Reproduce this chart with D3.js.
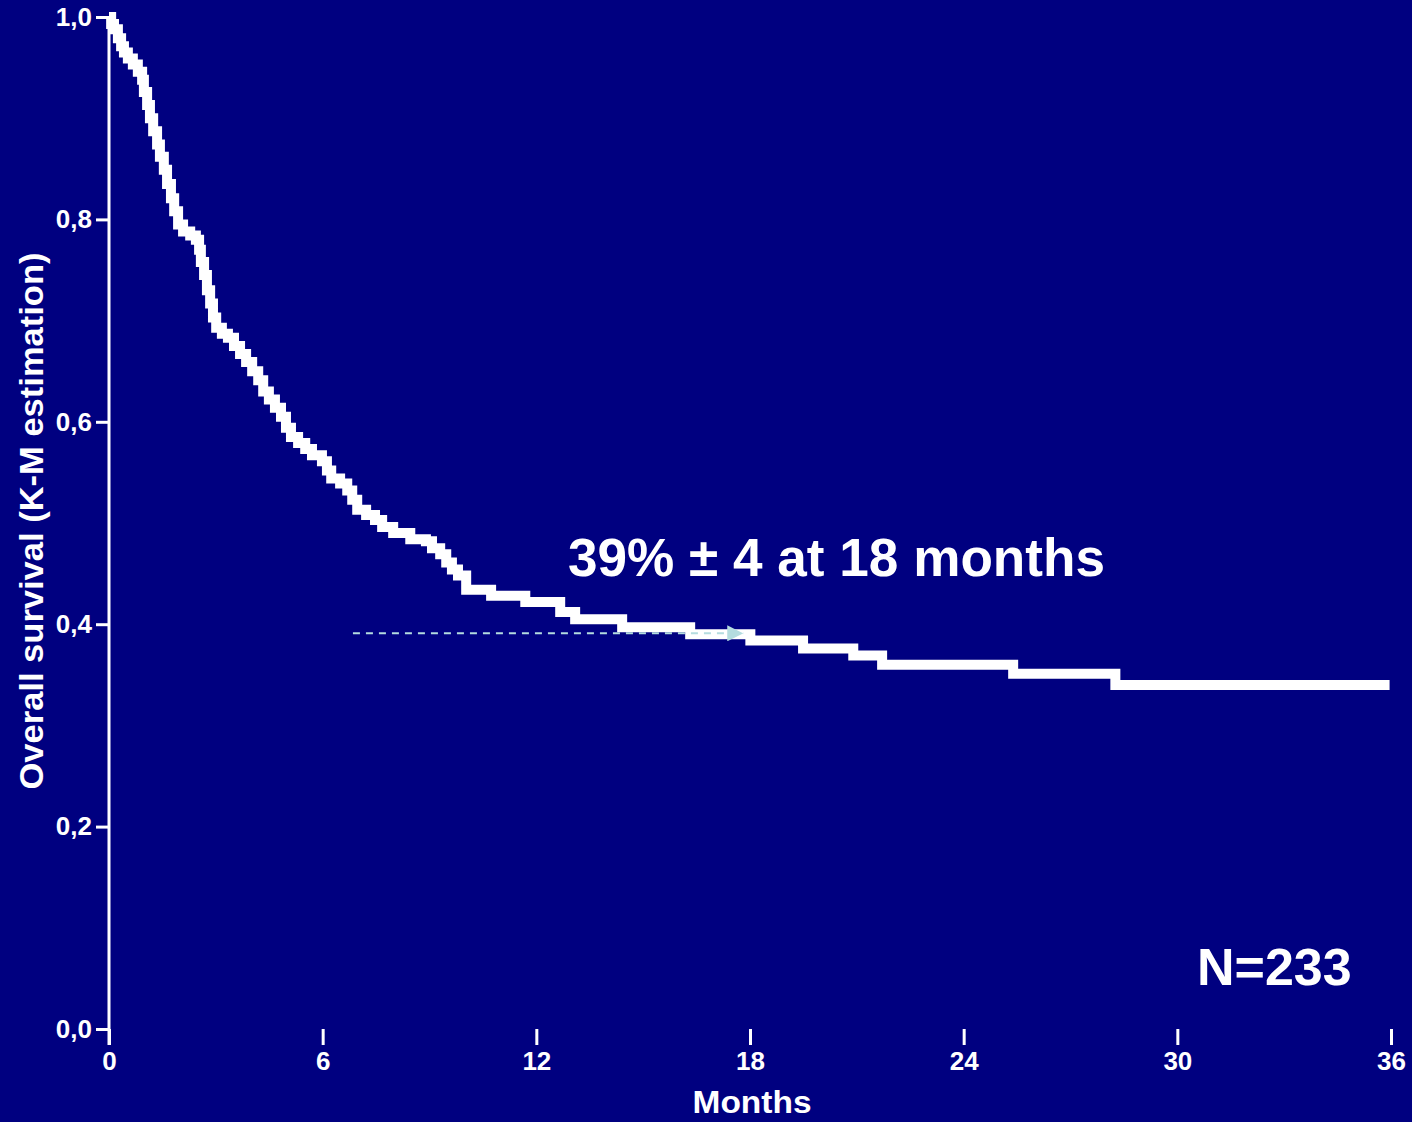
<!DOCTYPE html>
<html>
<head>
<meta charset="utf-8">
<script src="https://cdn.jsdelivr.net/npm/d3@7"></script>
<style>
  html, body { margin: 0; padding: 0; background: #000080; }
  svg { display: block; }
</style>
</head>
<body>
<svg id="chart" width="1412" height="1122"></svg>
<script>
// ---- Data ----
const months   = [0, 0.06, 0.14, 0.25, 0.34, 0.42, 0.53, 0.67, 0.81, 0.93, 0.98, 1.07, 1.15, 1.24, 1.35, 1.43, 1.54, 1.63, 1.74, 1.83, 1.94, 2.08, 2.28, 2.44, 2.53, 2.58, 2.67, 2.75, 2.84, 2.92, 3.01, 3.17, 3.34, 3.51, 3.68, 3.85, 4.02, 4.19, 4.33, 4.49, 4.66, 4.83, 4.97, 5.11, 5.31, 5.51, 5.70, 5.98, 6.12, 6.24, 6.49, 6.69, 6.83, 6.97, 7.22, 7.47, 7.67, 7.98, 8.46, 8.90, 9.07, 9.30, 9.47, 9.63, 9.80, 10.03, 10.73, 11.69, 12.67, 13.09, 14.41, 16.32, 18.01, 19.49, 20.90, 21.71, 25.39, 28.26, 35.96];
const survival = [1.000, 0.993, 0.988, 0.979, 0.971, 0.965, 0.959, 0.953, 0.946, 0.938, 0.926, 0.913, 0.900, 0.887, 0.874, 0.862, 0.849, 0.835, 0.821, 0.808, 0.795, 0.788, 0.784, 0.780, 0.770, 0.758, 0.745, 0.730, 0.717, 0.703, 0.693, 0.687, 0.683, 0.675, 0.667, 0.659, 0.650, 0.641, 0.630, 0.622, 0.614, 0.605, 0.594, 0.585, 0.579, 0.573, 0.567, 0.561, 0.552, 0.544, 0.539, 0.532, 0.523, 0.513, 0.508, 0.503, 0.496, 0.490, 0.484, 0.482, 0.475, 0.469, 0.461, 0.454, 0.448, 0.434, 0.428, 0.422, 0.412, 0.405, 0.397, 0.390, 0.384, 0.376, 0.369, 0.360, 0.351, 0.340, 0.340];

const xTicks = [0, 6, 12, 18, 24, 30, 36];
const yTicks = [0.0, 0.2, 0.4, 0.6, 0.8, 1.0];
const yTickLabels = ["0,0", "0,2", "0,4", "0,6", "0,8", "1,0"];

const xTitle = "Months";
const yTitle = "Overall survival (K-M estimation)";

const annotationText = "39% ± 4 at 18 months";
const annotationMonths = [6.85, 17.81];
const annotationSurvival = 0.391;
const sampleText = "N=233";

// ---- Layout ----
const svg = d3.select("#chart");
const W = 1412, H = 1122;
const x0 = 109, x1 = 1391;
const yTop = 17, yBottom = 1029;

svg.append("rect").attr("width", W).attr("height", H).attr("fill", "#000080");

const x = d3.scaleLinear().domain([0, 36]).range([x0, x1]);
const y = d3.scaleLinear().domain([0, 1]).range([yBottom, yTop]);

const tickFont = "'Liberation Sans', Arial, sans-serif";

// Y axis
const yAxis = d3.axisLeft(y)
  .tickValues(yTicks)
  .tickFormat((d, i) => yTickLabels[i])
  .tickSize(13)
  .tickPadding(4);
const gy = svg.append("g").attr("transform", `translate(${x0},0)`).call(yAxis);
gy.select(".domain").remove();
gy.selectAll(".tick line").attr("stroke", "#fff").attr("stroke-width", 3);
gy.selectAll(".tick text")
  .attr("fill", "#fff")
  .style("font-family", tickFont)
  .style("font-size", "26px")
  .style("font-weight", "bold");
svg.append("line")
  .attr("x1", x0).attr("x2", x0)
  .attr("y1", y(1)).attr("y2", y(0) + 16)
  .attr("stroke", "#fff").attr("stroke-width", 3);

// X axis (ticks only)
const xAxis = d3.axisBottom(x)
  .tickValues(xTicks)
  .tickFormat(d3.format("d"))
  .tickSize(16)
  .tickPadding(7);
const gx = svg.append("g").attr("transform", `translate(0,${yBottom})`).call(xAxis);
gx.select(".domain").remove();
gx.selectAll(".tick line").attr("stroke", "#fff").attr("stroke-width", 3);
gx.selectAll(".tick text")
  .attr("fill", "#fff")
  .style("font-family", tickFont)
  .style("font-size", "26px")
  .style("font-weight", "bold");

// Axis titles
svg.append("text")
  .attr("x", 752).attr("y", 1113)
  .attr("text-anchor", "middle")
  .attr("fill", "#fff")
  .attr("textLength", 119)
  .attr("lengthAdjust", "spacingAndGlyphs")
  .style("font-family", tickFont)
  .style("font-size", "32px")
  .style("font-weight", "bold")
  .text(xTitle);

svg.append("text")
  .attr("transform", "translate(43,521) rotate(-90)")
  .attr("text-anchor", "middle")
  .attr("fill", "#fff")
  .attr("textLength", 537)
  .attr("lengthAdjust", "spacingAndGlyphs")
  .style("font-family", tickFont)
  .style("font-size", "33px")
  .style("font-weight", "bold")
  .text(yTitle);

// KM curve
const pts = months.map((m, i) => [m, survival[i]]);
const line = d3.line()
  .x(d => x(d[0]))
  .y(d => y(d[1]))
  .curve(d3.curveStepAfter);
svg.append("path")
  .datum(pts)
  .attr("d", line)
  .attr("fill", "none")
  .attr("stroke", "#fff")
  .attr("stroke-width", 10)
  .attr("stroke-linejoin", "miter")
  .attr("stroke-linecap", "butt");

// Dashed arrow annotation
const defs = svg.append("defs");
defs.append("marker")
  .attr("id", "arrow")
  .attr("markerUnits", "userSpaceOnUse")
  .attr("markerWidth", 16).attr("markerHeight", 16)
  .attr("viewBox", "0 0 15 15")
  .attr("refX", 15).attr("refY", 7.5)
  .attr("orient", "auto")
  .append("path")
  .attr("d", "M0,0 L15,7.5 L0,15 Z")
  .attr("fill", "#b4dcdf");

svg.append("line")
  .attr("x1", x(annotationMonths[0])).attr("x2", x(annotationMonths[1]))
  .attr("y1", y(annotationSurvival)).attr("y2", y(annotationSurvival))
  .attr("stroke", "#b4dcdf")
  .attr("stroke-width", 2)
  .attr("stroke-dasharray", "7,6")
  .attr("marker-end", "url(#arrow)");

// Annotation texts
svg.append("text")
  .attr("x", 568).attr("y", 576)
  .attr("fill", "#fff")
  .attr("textLength", 537)
  .attr("lengthAdjust", "spacingAndGlyphs")
  .style("font-family", "Arial, 'Liberation Sans', sans-serif")
  .style("font-size", "53px")
  .style("font-weight", "bold")
  .text(annotationText);

svg.append("text")
  .attr("x", 1197).attr("y", 985)
  .attr("fill", "#fff")
  .style("font-family", "Arial, 'Liberation Sans', sans-serif")
  .style("font-size", "52px")
  .style("font-weight", "bold")
  .text(sampleText);
</script>
</body>
</html>
